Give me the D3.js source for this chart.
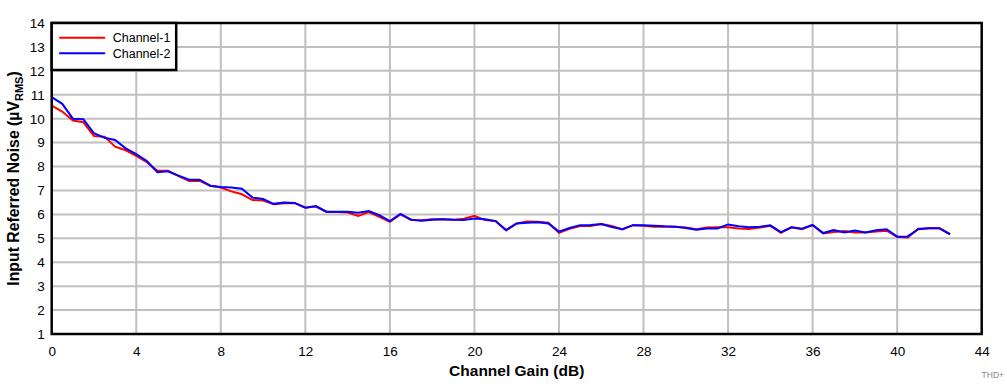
<!DOCTYPE html>
<html>
<head>
<meta charset="utf-8">
<script src="https://cdn.jsdelivr.net/npm/d3@7"></script>
<style>
  body { margin: 0; background: #fff; }
  svg { display: block; font-family: "Liberation Sans", Arial, sans-serif; }
</style>
</head>
<body>
<div id="chart"></div>
<script>
/* Input referred noise vs channel gain */

const gain = d3.range(0, 43, 0.5);

const channel1 = [
  10.55, 10.3, 9.92, 9.85, 9.28, 9.25, 8.83, 8.68, 8.45, 8.18,
  7.82, 7.82, 7.6, 7.4, 7.4, 7.2, 7.12, 6.96, 6.84, 6.6,
  6.58, 6.42, 6.47, 6.47, 6.28, 6.33, 6.1, 6.1, 6.08, 5.94,
  6.1, 5.9, 5.69, 6.0, 5.77, 5.76, 5.8, 5.8, 5.78, 5.82,
  5.94, 5.76, 5.72, 5.33, 5.62, 5.7, 5.69, 5.65, 5.23, 5.4,
  5.51, 5.51, 5.6, 5.52, 5.37, 5.55, 5.52, 5.48, 5.48, 5.48,
  5.45, 5.38, 5.45, 5.46, 5.46, 5.41, 5.39, 5.45, 5.52, 5.23,
  5.46, 5.38, 5.55, 5.2, 5.26, 5.3, 5.24, 5.24, 5.28, 5.32,
  5.06, 5.03, 5.4, 5.42, 5.42, 5.18
];

const channel2 = [
  10.9, 10.62, 10.0, 9.98, 9.39, 9.2, 9.11, 8.76, 8.52, 8.23,
  7.76, 7.8, 7.62, 7.45, 7.45, 7.2, 7.14, 7.12, 7.07, 6.7,
  6.64, 6.44, 6.5, 6.48, 6.28, 6.35, 6.11, 6.11, 6.11, 6.07,
  6.14, 5.97, 5.72, 6.02, 5.78, 5.73, 5.78, 5.8, 5.78, 5.77,
  5.83, 5.8, 5.72, 5.35, 5.62, 5.65, 5.67, 5.62, 5.28, 5.43,
  5.55, 5.56, 5.6, 5.47, 5.38, 5.55, 5.55, 5.53, 5.5, 5.48,
  5.43, 5.36, 5.41, 5.41, 5.58, 5.5, 5.46, 5.48, 5.54, 5.26,
  5.46, 5.4, 5.56, 5.22, 5.35, 5.24, 5.33, 5.24, 5.34, 5.38,
  5.07, 5.08, 5.38, 5.42, 5.42, 5.16
];

const xTicks = d3.range(0, 45, 4);
const yTicks = d3.range(1, 15, 1);

const series = [
  { name: 'Channel-1', values: channel1, color: '#ff0000' },
  { name: 'Channel-2', values: channel2, color: '#0000ff' },
];

const W = 1007, H = 387;
const margin = { top: 23, right: 25.3, bottom: 53, left: 51.7 };
const iw = W - margin.left - margin.right;
const ih = H - margin.top - margin.bottom;

const svg = d3.select('#chart').append('svg')
  .attr('width', W)
  .attr('height', H);

const x = d3.scaleLinear().domain([0, 44]).range([0, iw]);
const y = d3.scaleLinear().domain([1, 14]).range([ih, 0]);

const g = svg.append('g').attr('transform', `translate(${margin.left},${margin.top})`);

// grid
g.append('g')
  .selectAll('line')
  .data(xTicks.slice(1, -1))
  .join('line')
  .attr('x1', (d) => x(d)).attr('x2', (d) => x(d))
  .attr('y1', 0).attr('y2', ih)
  .attr('stroke', '#c0c0c0').attr('stroke-width', 2);

g.append('g')
  .selectAll('line')
  .data(yTicks.slice(1, -1))
  .join('line')
  .attr('x1', 0).attr('x2', iw)
  .attr('y1', (d) => y(d)).attr('y2', (d) => y(d))
  .attr('stroke', '#c0c0c0').attr('stroke-width', 2);

// axes (labels only)
const xAxis = g.append('g')
  .attr('transform', `translate(0,${ih})`)
  .call(d3.axisBottom(x).tickValues(xTicks).tickSize(0).tickPadding(12));
const yAxis = g.append('g')
  .call(d3.axisLeft(y).tickValues(yTicks).tickSize(0).tickPadding(7));
[xAxis, yAxis].forEach((a) => {
  a.select('.domain').remove();
  a.selectAll('text')
    .attr('font-family', '"Liberation Sans", Arial, sans-serif')
    .attr('font-size', 13.5)
    .attr('fill', '#000');
});

// lines
const line = d3.line()
  .x((d, i) => x(gain[i]))
  .y((d) => y(d));

g.selectAll('.series')
  .data(series)
  .join('path')
  .attr('class', 'series')
  .attr('d', (s) => line(s.values))
  .attr('fill', 'none')
  .attr('stroke', (s) => s.color)
  .attr('stroke-width', 2);

// frame
g.append('rect')
  .attr('x', 0).attr('y', 0)
  .attr('width', iw).attr('height', ih)
  .attr('fill', 'none')
  .attr('stroke', '#000')
  .attr('stroke-width', 2.5);

// legend
const lg = g.append('g');
lg.append('rect')
  .attr('x', 0).attr('y', 0)
  .attr('width', 124.5).attr('height', 47)
  .attr('fill', '#fff')
  .attr('stroke', '#000')
  .attr('stroke-width', 2.5);
series.forEach((s, i) => {
  const ly = 14.7 + i * 15.6;
  lg.append('line')
    .attr('x1', 7.5).attr('x2', 53.5)
    .attr('y1', ly).attr('y2', ly)
    .attr('stroke', s.color).attr('stroke-width', 2);
  lg.append('text')
    .attr('x', 61).attr('y', ly)
    .attr('dy', '0.35em')
    .attr('font-size', 12.5)
    .text(s.name);
});

// axis titles
svg.append('text')
  .attr('x', margin.left + iw / 2)
  .attr('y', 376)
  .attr('text-anchor', 'middle')
  .attr('font-size', 15.5)
  .attr('font-weight', 'bold')
  .text('Channel Gain (dB)');

const yt = svg.append('text')
  .attr('transform', `translate(19,${margin.top + ih / 2}) rotate(-90)`)
  .attr('text-anchor', 'middle')
  .attr('font-size', 15.8)
  .attr('font-weight', 'bold');
yt.append('tspan').text('Input Referred Noise (µV');
yt.append('tspan').attr('font-size', 11).attr('dy', 4).text('RMS');
yt.append('tspan').attr('dy', -4).text(')');

// figure tag
svg.append('text')
  .attr('x', 1004)
  .attr('y', 378)
  .attr('text-anchor', 'end')
  .attr('font-size', 8.5)
  .attr('fill', '#888')
  .text('THD+');
</script>
</body>
</html>
